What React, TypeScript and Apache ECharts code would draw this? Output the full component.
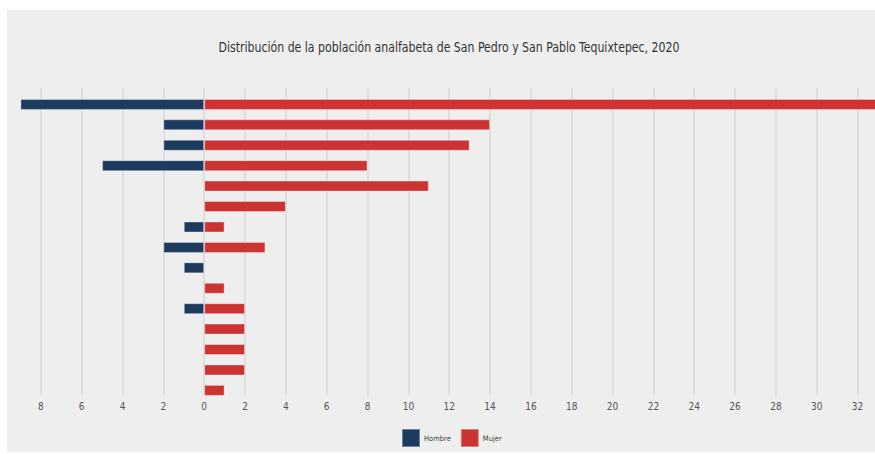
import React, { useEffect, useRef } from "react";
import * as echarts from "echarts";

const titleText = "Distribución de la población analfabeta de San Pedro y San Pablo Tequixtepec, 2020";
const categories = ["85 y más", "80-84", "75-79", "70-74", "65-69", "60-64", "55-59", "50-54", "45-49", "40-44", "35-39", "30-34", "25-29", "20-24", "15-19"];
const hombre = [9, 2, 2, 5, 0, 0, 1, 2, 1, 0, 1, 0, 0, 0, 0];
const mujer = [33, 14, 13, 8, 11, 4, 1, 3, 0, 1, 2, 2, 2, 2, 1];
const seriesNames = ["Hombre", "Mujer"];
const xMin = -10;
const xMax = 33;
const xInterval = 2;

const FONT = "'DejaVu Sans Condensed', 'Liberation Sans Narrow', sans-serif";

export default function App() {
  const ref = useRef<HTMLDivElement>(null);
  useEffect(() => {
    if (!ref.current) return;
    const chart = echarts.init(ref.current, undefined, { renderer: "svg" });
    const toData = (arr: number[], sign: number) => arr.map((v) => (v === 0 ? "-" : sign * v));
    chart.setOption({
      animation: false,
      backgroundColor: "transparent",
      textStyle: { fontFamily: FONT },
      graphic: [
        {
          type: "text",
          x: 449,
          y: 47,
          scaleX: 0.84,
          originX: 0,
          style: {
            text: titleText,
            fontFamily: FONT,
            fontSize: 14.5,
            fill: "#333333",
            textAlign: "center",
            textVerticalAlign: "middle",
          },
        },
      ],
      legend: {
        data: seriesNames,
        left: 396,
        top: 423,
        itemWidth: 18,
        itemHeight: 18,
        itemGap: 9,
        icon: "rect",
        textStyle: { fontSize: 7.5, color: "#444444", fontFamily: FONT, padding: [0, 0, 0, -1] },
      },
      grid: [
        { left: 0, right: 0, top: 88, bottom: 454 - 395 },
        { left: 0, right: 0, top: 94.2, bottom: 454 - 400.6 },
      ],
      xAxis: [
        {
          type: "value",
          gridIndex: 0,
          min: xMin,
          max: xMax,
          interval: xInterval,
          axisLine: { show: false },
          axisTick: { show: false },
          splitLine: { show: true, lineStyle: { color: "#d8d8d8", width: 1.5 } },
          axisLabel: {
            showMinLabel: false,
            showMaxLabel: false,
            fontSize: 10,
            color: "#555555",
            fontFamily: FONT,
            margin: 6,
            formatter: (v: number) => String(Math.abs(v)),
          },
        },
        {
          type: "value",
          gridIndex: 1,
          min: xMin,
          max: xMax,
          interval: xInterval,
          show: false,
          splitLine: { show: false },
        },
      ],
      yAxis: [
        { type: "value", gridIndex: 0, show: false, splitLine: { show: false } },
        {
          type: "category",
          gridIndex: 1,
          data: categories,
          inverse: true,
          show: false,
        },
      ],
      series: [
        {
          name: seriesNames[0],
          type: "bar",
          xAxisIndex: 1,
          yAxisIndex: 1,
          stack: "total",
          barWidth: 11,
          data: toData(hombre, -1),
          itemStyle: { color: "#1c3b5e", borderColor: "rgba(255,255,255,0.35)", borderWidth: 1 },
        },
        {
          name: seriesNames[1],
          type: "bar",
          xAxisIndex: 1,
          yAxisIndex: 1,
          stack: "total",
          barWidth: 11,
          data: toData(mujer, 1),
          itemStyle: { color: "#cc3333", borderColor: "rgba(255,255,255,0.35)", borderWidth: 1 },
        },
      ],
    });
    return () => chart.dispose();
  }, []);
  return (
    <div style={{ position: "fixed", left: 0, top: 0, width: 875, height: 454, background: "#ffffff", overflow: "hidden" }}>
      <div style={{ position: "absolute", left: 7, top: 10, width: 868, height: 442, background: "#eeeeee" }} />
      <div ref={ref} style={{ position: "absolute", left: 0, top: 0, width: 878, height: 454 }} />
      <div style={{ position: "absolute", left: 0, top: 0, width: 7, height: 454, background: "#ffffff", pointerEvents: "none" }} />
    </div>
  );
}
